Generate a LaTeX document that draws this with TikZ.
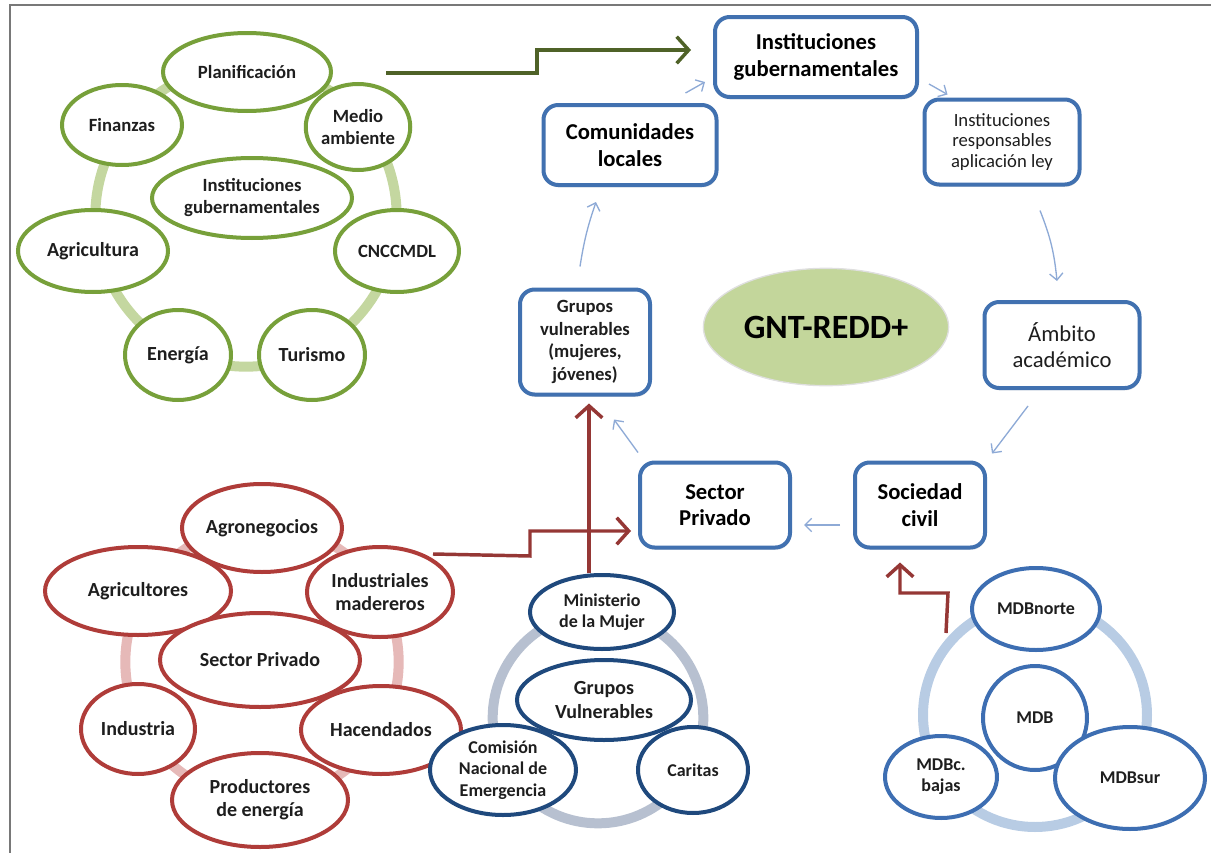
\documentclass[tikz,border=0pt]{standalone}
\usepackage{fontspec}
\setmainfont{Carlito}
\usetikzlibrary{shapes.geometric,arrows.meta,calc,shadows}
\definecolor{gOut}{RGB}{119,160,58}
\definecolor{gRing}{RGB}{196,215,160}
\definecolor{gArr}{RGB}{79,98,40}
\definecolor{bOut}{RGB}{65,113,176}
\definecolor{bArr}{RGB}{142,170,214}
\definecolor{gntFill}{RGB}{195,214,155}
\definecolor{rOut}{RGB}{175,60,57}
\definecolor{rRing}{RGB}{230,185,184}
\definecolor{rArr}{RGB}{149,55,53}
\definecolor{nOut}{RGB}{31,73,125}
\definecolor{nRing}{RGB}{183,192,208}
\definecolor{mOut}{RGB}{61,110,178}
\definecolor{mRing}{RGB}{184,204,228}
\definecolor{txt}{RGB}{30,30,30}
\definecolor{frameC}{RGB}{120,120,120}
\begin{document}
\begin{tikzpicture}[x=0.75pt,y=-0.75pt,
  esz/.style 2 args={minimum width=#1*1.5pt, minimum height=#2*1.5pt},
  bsz/.style 2 args={minimum width=#1*0.75pt, minimum height=#2*0.75pt},
  oval/.style={ellipse, line width=3pt, fill=white, inner sep=0pt, align=center, text=txt,
    font=\bfseries\fontsize{14}{16.5}\selectfont},
  goval/.style={oval, draw=gOut},
  roval/.style={oval, draw=rOut, font=\bfseries\fontsize{15}{17.5}\selectfont},
  noval/.style={oval, draw=nOut, font=\bfseries\fontsize{13.5}{16}\selectfont},
  moval/.style={oval, draw=mOut, font=\bfseries\fontsize{13.5}{16}\selectfont},
  ring/.style={line width=7.5pt},
  bbox/.style={rectangle, rounded corners=11pt, draw=bOut, line width=3pt, fill=white,
    inner sep=2pt, align=center, text=black, font=\bfseries\fontsize{17}{20}\selectfont,
    drop shadow={shadow xshift=0.6pt, shadow yshift=-1.8pt, opacity=0.22}},
  thinarr/.style={draw=bArr, line width=1pt, -{Straight Barb[length=5pt,width=10pt]}},
  bigarr/.style={line width=2.6pt, -{Straight Barb[length=9pt,width=20pt,line width=2.6pt]}},
]
\useasboundingbox (0,0) rectangle (1211,853);
% frame
\draw[frameC, line width=2pt] (1211,5) -- (10,5) -- (10,853);

% ---------- green cluster ----------
\coordinate (gc) at (246,216);
\draw[ring, gRing] (gc) circle [radius=113pt];
\node[goval, esz={84}{39}] (planif) at (247,72) {Planificación};
\node[goval, esz={60}{40}] (finan) at (122,125) {Finanzas};
\node[goval, esz={50}{43}] (medio) at (358,127) {Medio\\ambiente};
\node[goval, esz={75}{41}, font=\bfseries\fontsize{15}{17.5}\selectfont] (agri) at (93,251) {Agricultura};
\node[goval, esz={62}{41}] (cncc) at (397,251) {CNCCMDL};
\node[goval, esz={53}{45}, font=\bfseries\fontsize{15}{17.5}\selectfont] (ener) at (178,355) {Energía};
\node[goval, esz={53}{45}, font=\bfseries\fontsize{15}{17.5}\selectfont] (turis) at (312,355) {Turismo};
\node[goval, esz={100}{40}] (ginst) at (252,198) {Instituciones\\gubernamentales};

% ---------- blue cycle ----------
\node[bbox, bsz={202}{80}] (instg) at (816,57) {Instituciones\\gubernamentales};
\node[bbox, bsz={173}{80}] (comun) at (630,145) {Comunidades\\locales};
\node[bbox, bsz={155}{85}, font=\fontsize{14}{15.5}\selectfont, text=txt] (instr) at (1002,142) {Instituciones\\responsables\\aplicación ley};
\node[bbox, bsz={130}{105}, font=\bfseries\fontsize{14}{17}\selectfont, text=txt] (grupv) at (585,342) {Grupos\\vulnerables\\(mujeres,\\jóvenes)};
\node[ellipse, fill=gntFill, draw=gray!25, line width=1pt, minimum width=133.5pt, minimum height=88pt,
  font=\bfseries\fontsize{25.5}{28}\selectfont, text=black] (gnt) at (826,327) {GNT-REDD+};
\node[bbox, bsz={155}{86}, font=\fontsize{17}{20}\selectfont, text=txt] (ambito) at (1062,345) {Ámbito\\académico};
\node[bbox, bsz={150}{85}] (sectp) at (715,505) {Sector\\Privado};
\node[bbox, bsz={130}{85}] (socc) at (920,505) {Sociedad\\civil};

\draw[thinarr] ($(comun.north east)+(-33,-10)$) -- ($(instg.south west)+(-8,-17)$);
\draw[thinarr] ($(instg.south east)+(10,-15)$) -- ($(instr.north west)+(25,-3)$);
\draw[thinarr] ($(instr.south)+(38,24)$) to[bend left=8] ($(ambito.north)+(-5,-19)$);
\draw[thinarr] ($(ambito.south)+(-34,16)$) -- ($(socc.north east)+(5,-7)$);
\draw[thinarr] ($(socc.west)+(-13,20)$) -- ($(sectp.east)+(12,20)$);
\draw[thinarr] ($(sectp.north west)+(0,-8)$) -- ($(grupv.south east)+(-38,23)$);
\draw[thinarr] ($(grupv.north)+(-5,-21)$) to[bend left=5] ($(comun.south)+(-34,15)$);

% green connector
\draw[bigarr, gArr] ($(planif.east)+(53,1)$) -- (537,73) -- (537,50) -- ($(instg.west)+(-22,-7)$);

% ---------- red cluster ----------
\coordinate (rc) at (262,662);
\draw[ring, rRing] (rc) circle [radius=102.5pt];
\node[roval, esz={80}{44}] (agron) at (262,528) {Agronegocios};
\node[roval, esz={93}{44}] (agric) at (138,591) {Agricultores};
\node[roval, esz={73}{45}] (indm) at (380,592) {Industriales\\madereros};
\node[roval, esz={57}{45}] (indus) at (138,729) {Industria};
\node[roval, esz={80}{44}] (hacen) at (381,730) {Hacendados};
\node[roval, esz={88}{47}] (produ) at (260,800) {Productores\\de energía};
\node[roval, esz={100}{47}] (rsect) at (260,660) {Sector Privado};

% ---------- navy cluster ----------
\coordinate (nc) at (598,718);
\draw[ring, nRing] (nc) circle [radius=79pt];
\node[noval, esz={72}{37}] (minis) at (602,612) {Ministerio\\de la Mujer};
\node[noval, esz={87}{40}, font=\bfseries\fontsize{15}{17.5}\selectfont] (ngrup) at (604,700) {Grupos\\Vulnerables};
\node[noval, esz={55}{43}] (carit) at (693,770) {Caritas};
\node[noval, esz={73}{45}] (comis) at (503,770) {Comisión\\Nacional de\\Emergencia};

% ---------- MDB cluster ----------
\coordinate (mc) at (1035,715);
\draw[ring, mRing] (mc) circle [radius=84pt];
\node[moval, esz={64}{41}] (mdbn) at (1036,609) {MDBnorte};
\node[moval, esz={52}{52}] (mdb) at (1035,718) {MDB};
\node[moval, esz={56}{41}] (mdbc) at (941,777) {MDBc.\\bajas};
\node[moval, esz={75}{51}] (mdbs) at (1130,778) {MDBsur};

% red connectors
\draw[bigarr, rArr] ($(indm.north)+(53,9)$) -- (530,556) -- (530,531) -- ($(sectp.west)+(-7,26)$);
\draw[bigarr, rArr] ($(minis.north)+(-13,0)$) -- ($(grupv.south)+(4,7)$);
\draw[bigarr, rArr] ($(mdbn.west)+(-24,24)$) -- (948,593) -- (900,593) -- ($(socc.south)+(-20,13)$);
\end{tikzpicture}
\end{document}
